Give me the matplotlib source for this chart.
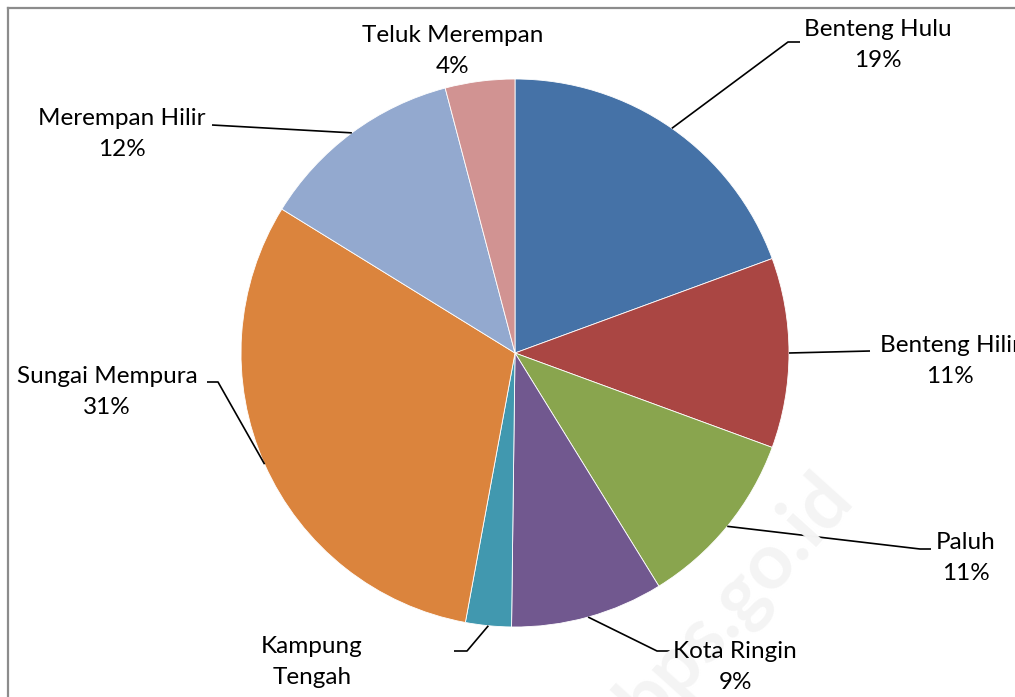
import matplotlib
matplotlib.use('Agg')
import matplotlib.pyplot as plt
import numpy as np
from matplotlib.lines import Line2D

categories = ['Benteng Hulu', 'Benteng Hilir', 'Paluh', 'Kota Ringin',
              'Kampung Tengah', 'Sungai Mempura', 'Merempan Hilir', 'Teluk Merempan']
values = [19.4, 11.2, 10.6, 9.0, 2.7, 30.9, 12.1, 4.1]
pct_labels = ['19%', '11%', '11%', '9%', '3%', '31%', '12%', '4%']
label_texts = ['Benteng Hulu', 'Benteng Hilir', 'Paluh', 'Kota Ringin',
               'Kampung\nTengah', 'Sungai Mempura', 'Merempan Hilir', 'Teluk Merempan']
colors = ['#4572A7', '#AA4643', '#89A54E', '#71588F',
          '#4198AF', '#DB843D', '#93A9CF', '#D19392']

W, H = 1015, 697
fig = plt.figure(figsize=(W / 100, H / 100), dpi=100)
fig.patch.set_facecolor('white')

cx, cy, R = 515, 353, 274
ax = fig.add_axes([(cx - R) / W, (H - cy - R) / H, 2 * R / W, 2 * R / H])

# faint watermark
fig.text(735 / W, 1 - 600 / H, 'bps.go.id', fontsize=56, fontweight='bold',
         color='#f4f4f4', rotation=48, ha='center', va='center', zorder=0,
         family='Lato')

wedges, _ = ax.pie(values, colors=colors, startangle=90, counterclock=False,
                   radius=1, wedgeprops=dict(edgecolor='white', linewidth=0.6))
ax.set_xlim(-1, 1)
ax.set_ylim(-1, 1)
ax.set_aspect('equal')
ax.axis('off')


def d(px, py):
    return ((px - cx) / R, (cy - py) / R)


# label block centres (pixels, top-left origin) and leader line elbow/end points
label_pos = [(878, 45), (950, 361), (966, 558), (735, 667),
             (312, 678), (107, 392), (122, 134), (453, 51)]
leaders = [
    [(788, 42), (800, 42)],
    [(870, 351)],
    [(920, 549), (931, 549)],
    [(657, 651), (670, 651)],
    [(467, 651), (454, 651)],
    [(218, 382), (207, 382)],
    [(212, 125)],
    None,
]

for w, lab, pct, pos, ld in zip(wedges, label_texts, pct_labels, label_pos, leaders):
    fig.text(pos[0] / W, 1 - pos[1] / H, lab + '\n' + pct, ha='center', va='center',
             multialignment='center', fontsize=17.5, family='Lato', color='black',
             linespacing=1.64)
    if ld is not None:
        th = np.deg2rad((w.theta1 + w.theta2) / 2)
        xs = [np.cos(th)] + [d(*p)[0] for p in ld]
        ys = [np.sin(th)] + [d(*p)[1] for p in ld]
        ax.plot(xs, ys, color='black', lw=1.2, clip_on=False, solid_capstyle='butt')

# chart area frame (left and top edges visible)
fig.add_artist(Line2D([7.5 / W, 7.5 / W], [0, 1 - 7.5 / H], transform=fig.transFigure,
                      color='#8c8c8c', lw=1.6))
fig.add_artist(Line2D([7.5 / W, 1], [1 - 7.5 / H, 1 - 7.5 / H], transform=fig.transFigure,
                      color='#8c8c8c', lw=1.6))

fig.savefig('out.png', dpi=100, facecolor='white')
